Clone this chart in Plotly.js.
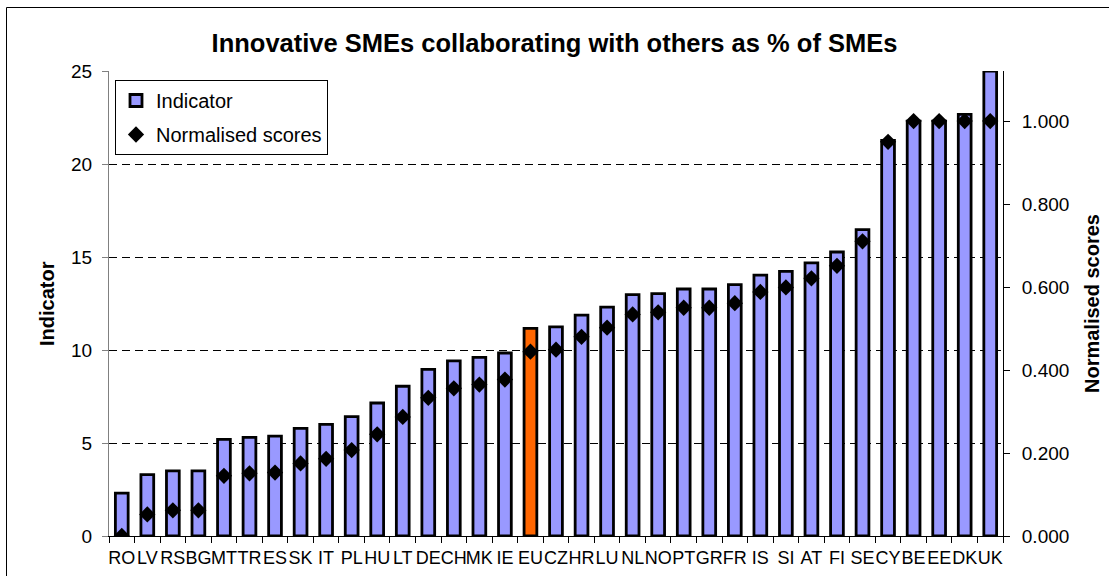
<!DOCTYPE html>
<html>
<head>
<meta charset="utf-8">
<script src="https://cdn.plot.ly/plotly-3.0.1.min.js"></script>
<style>
  html, body { margin: 0; padding: 0; background: #fff; }
  #chart { width: 1109px; height: 576px; }
</style>
</head>
<body>
<div id="chart"></div>
<script>
const countries = ["RO","LV","RS","BG","MT","TR","ES","SK","IT","PL","HU","LT","DE","CH","MK","IE","EU",
  "CZ","HR","LU","NL","NO","PT","GR","FR","IS","SI","AT","FI","SE","CY","BE","EE","DK","UK"];
const indicator = [2.3,3.3,3.5,3.5,5.2,5.3,5.37,5.79,6.0,6.42,7.15,8.05,8.96,9.42,9.6,9.84,11.16,
  11.24,11.87,12.31,12.98,13.03,13.28,13.28,13.52,14.03,14.23,14.68,15.27,16.47,21.27,22.3,22.3,22.67,25.0];
const normalised = [0.0,0.052,0.062,0.062,0.145,0.151,0.153,0.175,0.186,0.207,0.245,0.287,0.333,0.356,0.365,0.377,0.444,
  0.449,0.480,0.502,0.534,0.539,0.550,0.550,0.561,0.588,0.599,0.621,0.651,0.710,0.950,1.0,1.0,1.0,1.0];
const highlight = "EU";
const leftTicks = [0,5,10,15,20,25];
const rightTicks = [0,0.2,0.4,0.6,0.8,1.0];

const barColors = countries.map(c => c === highlight ? "#FF6600" : "#9999FF");

const font = "Arial, 'Liberation Sans', sans-serif";

const traces = [
  {
    type: "bar", name: "Indicator", x: countries, y: indicator,
    width: 0.5, legendgroup: "a",
    marker: { color: barColors, line: { color: "#000", width: 2.8 } },
    hoverinfo: "x+y"
  },
  {
    type: "scatter", mode: "markers", name: "Normalised scores", x: countries, y: normalised,
    yaxis: "y2", legendgroup: "b",
    marker: { symbol: "diamond", size: 12.5, color: "#000" },
    hoverinfo: "x+y"
  }
];

const L = 109, R = 1003, T = 71, B = 536;
const px = v => (v - L) / (R - L);
const py = v => (B - v) / (B - T);

const layout = {
  width: 1109, height: 576,
  margin: { l: L, r: 1109 - R, t: T, b: 576 - B, pad: 0 },
  paper_bgcolor: "#fff", plot_bgcolor: "#fff",
  font: { family: font, color: "#000", size: 19 },
  title: {
    text: "<b>Innovative SMEs collaborating with others as % of SMEs</b>",
    font: { family: font, size: 25.5, color: "#000" },
    x: 0.5, xref: "container", xanchor: "center",
    y: 1 - 43 / 576, yref: "container", yanchor: "middle"
  },
  bargap: 0.5,
  showlegend: true,
  legend: {
    x: px(115), y: py(80), xanchor: "left", yanchor: "top",
    bgcolor: "#fff", bordercolor: "#000", borderwidth: 1,
    font: { family: font, size: 20, color: "#000" },
    traceorder: "grouped", tracegroupgap: 5,
    itemwidth: 30
  },
  xaxis: {
    type: "category", categoryorder: "array", categoryarray: countries,
    range: [-0.5, countries.length - 0.5],
    tickmode: "array", tickvals: countries, ticktext: countries,
    tickson: "boundaries", ticks: "outside", ticklen: 6, tickcolor: "#000", tickwidth: 1,
    showline: true, linecolor: "#000", linewidth: 1,
    showgrid: false, zeroline: false,
    tickangle: 0,
    ticklabelstandoff: 5,
    tickfont: { family: font, size: 18, color: "#000" }
  },
  yaxis: {
    range: [0, 25], tickmode: "array", tickvals: leftTicks, ticktext: leftTicks.map(String),
    ticks: "outside", ticklen: 6, tickcolor: "#808080",
    showline: true, linecolor: "#808080", linewidth: 1,
    showgrid: true, gridcolor: "#000", gridwidth: 1, griddash: "8px,5px",
    zeroline: false,
    ticklabelstandoff: 6,
    tickfont: { family: font, size: 19, color: "#000" }
  },
  yaxis2: {
    overlaying: "y", side: "right",
    range: [0, 1.1205], tickmode: "array", tickvals: rightTicks, ticktext: rightTicks.map(v => v.toFixed(3)),
    ticks: "outside", ticklen: 6, tickcolor: "#000",
    showline: true, linecolor: "#000", linewidth: 1,
    showgrid: false, zeroline: false,
    ticklabelstandoff: 8,
    tickfont: { family: font, size: 19, color: "#000" }
  },
  annotations: [
    { text: "<b>Indicator</b>", xref: "paper", yref: "paper", x: px(47), y: py(303), textangle: -90,
      xanchor: "center", yanchor: "middle", showarrow: false, font: { family: font, size: 20, color: "#000" } },
    { text: "<b>Normalised scores</b>", xref: "paper", yref: "paper", x: px(1092), y: py(304), textangle: -90,
      xanchor: "center", yanchor: "middle", showarrow: false, font: { family: font, size: 20, color: "#000" } }
  ],
  shapes: [
    { type: "line", xref: "paper", yref: "paper", x0: px(6.5), x1: px(1115), y0: py(7.5), y1: py(7.5),
      line: { color: "#000", width: 1 } },
    { type: "line", xref: "paper", yref: "paper", x0: px(6.5), x1: px(6.5), y0: py(7.5), y1: py(590),
      line: { color: "#000", width: 1 } }
  ]
};

Plotly.newPlot("chart", traces, layout, { displayModeBar: false, staticPlot: true });
</script>
</body>
</html>
